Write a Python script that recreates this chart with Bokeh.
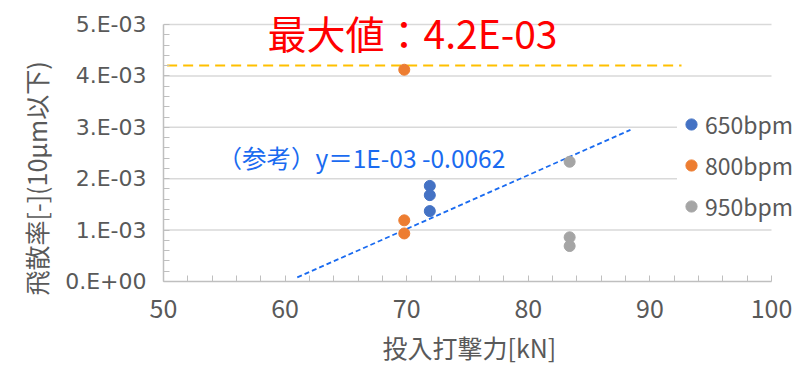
from bokeh.plotting import figure
from bokeh.models import Legend, LegendItem, Label, FixedTicker, Range1d, Title
from bokeh.embed import file_html
from bokeh.resources import INLINE

# ---- data ----
force_650 = [71.9, 71.9, 71.9]
rate_650 = [1.86e-3, 1.68e-3, 1.37e-3]
force_800 = [69.8, 69.8, 69.8]
rate_800 = [4.12e-3, 1.19e-3, 0.935e-3]
force_950 = [83.4, 83.4, 83.4]
rate_950 = [2.33e-3, 0.86e-3, 0.69e-3]
series_names = ["650bpm", "800bpm", "950bpm"]

trend_x = [61.0, 88.4]
trend_y = [0.08e-3, 2.95e-3]
max_value = 4.2e-3
max_line_x = [50.3, 92.6]

x_ticks = [50, 60, 70, 80, 90, 100]
x_minor = [52, 54, 56, 58, 62, 64, 66, 68, 72, 74, 76, 78, 82, 84, 86, 88, 92, 94, 96, 98]
y_ticks = [0.0, 0.001, 0.002, 0.003, 0.004, 0.005]
y_tick_labels = ["0.E+00", "1.E-03", "2.E-03", "3.E-03", "4.E-03", "5.E-03"]
y_minor = [0.0002, 0.0004, 0.0006, 0.0008, 0.0012, 0.0014, 0.0016, 0.0018,
           0.0022, 0.0024, 0.0026, 0.0028, 0.0032, 0.0034, 0.0036, 0.0038,
           0.0042, 0.0044, 0.0046, 0.0048]
x_min, x_max = 50, 100
y_min, y_max = 0.0, 0.005

title_text = "最大値：4.2E-03"
trend_text = "（参考）y＝1E-03 -0.0062"
x_title = "投入打撃力[kN]"
y_title = "飛散率[-](10μm以下)"

FONT = "Noto Sans CJK JP"
GREY = "#595959"
colors = ["#4472C4", "#ED7D31", "#A5A5A5"]

W, H = 800, 371
LEFT, RIGHT_AXIS, TOP_AXIS, BOTTOM_FRAME = 163, 771, 24, 281
px_per_x = (RIGHT_AXIS - LEFT) / (x_max - x_min)
px_per_y = (BOTTOM_FRAME - TOP_AXIS) / (y_max - y_min)

# frame extends to the right and top edges so that legend and title are not clipped;
# the axes themselves are bounded to the data extent
p = figure(width=W, height=H, output_backend="svg", toolbar_location=None,
           x_range=Range1d(x_min, x_max + (W - RIGHT_AXIS) / px_per_x),
           y_range=Range1d(y_min, y_max + TOP_AXIS / px_per_y),
           min_border_left=LEFT, min_border_right=0, min_border_top=0,
           min_border_bottom=H - BOTTOM_FRAME)
p.outline_line_color = None
p.background_fill_color = "white"
p.border_fill_color = "white"

# axes
p.xaxis.ticker = FixedTicker(ticks=x_ticks, minor_ticks=x_minor)
p.yaxis.ticker = FixedTicker(ticks=y_ticks, minor_ticks=y_minor)
p.yaxis.major_label_overrides = {t: l for t, l in zip(y_ticks, y_tick_labels)}
p.xaxis.bounds = (x_min, x_max)
p.yaxis.bounds = (y_min, y_max)
for ax in (p.xaxis, p.yaxis):
    ax.axis_line_color = "#BFBFBF"
    ax.axis_line_width = 1.5
    ax.major_tick_line_color = "#BFBFBF"
    ax.minor_tick_line_color = "#BFBFBF"
    ax.major_tick_in = 6
    ax.major_tick_out = 0
    ax.minor_tick_in = 6
    ax.minor_tick_out = 0
    ax.major_label_text_color = GREY
p.xaxis.major_label_text_font = FONT
p.xaxis.major_label_text_font_size = "25px"
p.yaxis.major_label_text_font = "DejaVu Sans"
p.yaxis.major_label_text_font_size = "22px"
p.xaxis.major_label_standoff = 17
p.yaxis.major_label_standoff = 17

# axis titles as side-panel titles (positioned like the reference)
p.add_layout(Title(text=x_title, align="left", offset=219, standoff=12,
                   text_font=FONT, text_font_size="25px", text_font_style="normal",
                   text_color=GREY), "below")
p.add_layout(Title(text=y_title, align="left", offset=-14, standoff=18,
                   text_font=FONT, text_font_size="25px", text_font_style="normal",
                   text_color=GREY), "left")

# horizontal gridlines, limited to the axis extent
p.xgrid.grid_line_color = None
p.ygrid.grid_line_color = None
grid_y = y_ticks[1:]
p.segment(x0=[x_min] * len(grid_y), x1=[x_max] * len(grid_y), y0=grid_y, y1=grid_y,
          line_color="#D9D9D9", line_width=1.5)

# reference lines
p.line(max_line_x, [max_value, max_value], line_color="#FFC000", line_width=2, line_dash="10 6")
p.line(trend_x, trend_y, line_color="#1A6BF0", line_width=1.8, line_dash="5 3")

# scatter series
r650 = p.scatter(force_650, rate_650, size=11, color=colors[0])
r800 = p.scatter(force_800, rate_800, size=11, color=colors[1])
r950 = p.scatter(force_950, rate_950, size=11, color=colors[2])

# texts
p.add_layout(Label(x=70.48, y=4.85e-3, text=title_text, text_font=FONT, text_font_size="39px",
                   text_color="#FF0000", text_align="center", text_baseline="middle"))
p.add_layout(Label(x=54.44, y=2.41e-3, text=trend_text, text_font=FONT, text_font_size="24.5px",
                   text_color="#1A6BF0", text_align="left", text_baseline="middle"))

legend = Legend(items=[LegendItem(label=n, renderers=[r]) for n, r in zip(series_names, [r650, r800, r950])],
                location=(514, 58), orientation="vertical",
                label_text_font=FONT, label_text_font_size="23px", label_text_color=GREY,
                glyph_width=28, glyph_height=28, label_height=20, label_standoff=0,
                spacing=7, padding=0, margin=0,
                background_fill_color="white", background_fill_alpha=1.0, border_line_color=None)
p.add_layout(legend)

open("out.html", "w").write(file_html(p, INLINE))
